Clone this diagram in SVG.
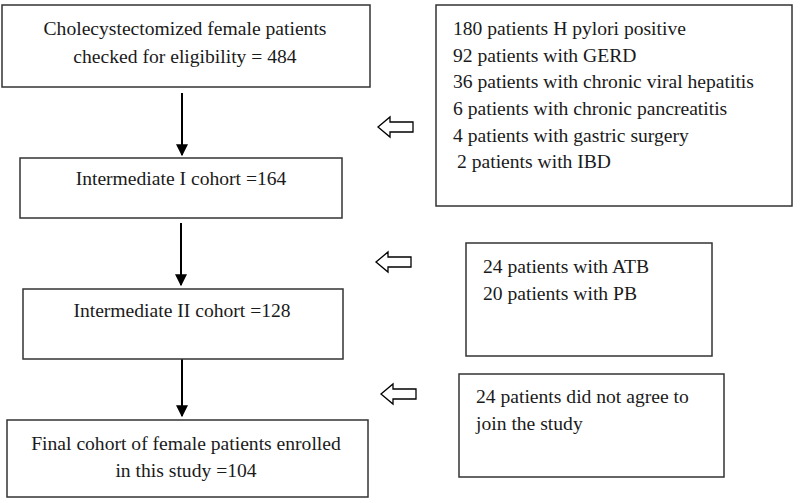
<svg xmlns="http://www.w3.org/2000/svg" width="800" height="503" viewBox="0 0 800 503">
<defs>
<style>
.box{fill:#fff;stroke:#333;stroke-width:1.5}
.t{font-family:"Liberation Serif","Times New Roman",serif;font-size:19.6px;fill:#1a1a1a}
.c{text-anchor:middle}
.ln{stroke:#000;stroke-width:2;fill:none}
.ha{fill:#fff;stroke:#000;stroke-width:1.3}
</style>
<marker id="ah" viewBox="0 0 10 10" refX="9" refY="5" markerWidth="6" markerHeight="6" markerUnits="strokeWidth" orient="auto">
<path d="M0,0 L10,5 L0,10 Z" fill="#000"/>
</marker>
<path id="hollow" d="M0,0 L12,-10 L12,-5 L35,-5 L35,5 L12,5 L12,10 Z"/>
</defs>
<rect width="800" height="503" fill="#fff"/>

<g id="connectors">
<line class="ln" x1="182" y1="93" x2="182" y2="155" marker-end="url(#ah)"/>
<line class="ln" x1="181" y1="223" x2="181" y2="285" marker-end="url(#ah)"/>
<line class="ln" x1="182" y1="354" x2="182" y2="416" marker-end="url(#ah)"/>
<use href="#hollow" class="ha" x="378" y="127"/>
<use href="#hollow" class="ha" x="376" y="262"/>
<use href="#hollow" class="ha" x="381" y="394"/>
</g>

<g id="n1">
<rect class="box" x="2" y="5" width="368" height="82"/>
<text class="t c" x="185" y="35">Cholecystectomized female patients</text>
<text class="t c" x="185" y="63">checked for eligibility = 484</text>
</g>
<g id="n2">
<rect class="box" x="20" y="158" width="322" height="60"/>
<text class="t c" x="181" y="185">Intermediate I cohort =164</text>
</g>
<g id="n3">
<rect class="box" x="23" y="289" width="320" height="70"/>
<text class="t c" x="182" y="317">Intermediate II cohort  =128</text>
</g>
<g id="n4">
<rect class="box" x="7" y="420" width="361" height="77"/>
<text class="t c" x="186" y="450">Final cohort of female patients enrolled</text>
<text class="t c" x="186" y="477">in this study =104</text>
</g>
<g id="e1">
<rect class="box" x="436" y="5" width="356" height="201"/>
<text class="t" x="453" y="35">180 patients H pylori positive</text>
<text class="t" x="453" y="62">92 patients with GERD</text>
<text class="t" x="453" y="88">36 patients with chronic viral hepatitis</text>
<text class="t" x="453" y="115">6 patients with chronic pancreatitis</text>
<text class="t" x="453" y="142">4 patients with gastric surgery</text>
<text class="t" x="457" y="168">2 patients with IBD</text>
</g>
<g id="e2">
<rect class="box" x="466" y="243" width="246" height="113"/>
<text class="t" x="483" y="273">24 patients with ATB</text>
<text class="t" x="483" y="300">20 patients with PB</text>
</g>
<g id="e3">
<rect class="box" x="459" y="374" width="265" height="103"/>
<text class="t" x="476" y="403">24 patients did not agree to</text>
<text class="t" x="476" y="430">join the study</text>
</g>
</svg>
